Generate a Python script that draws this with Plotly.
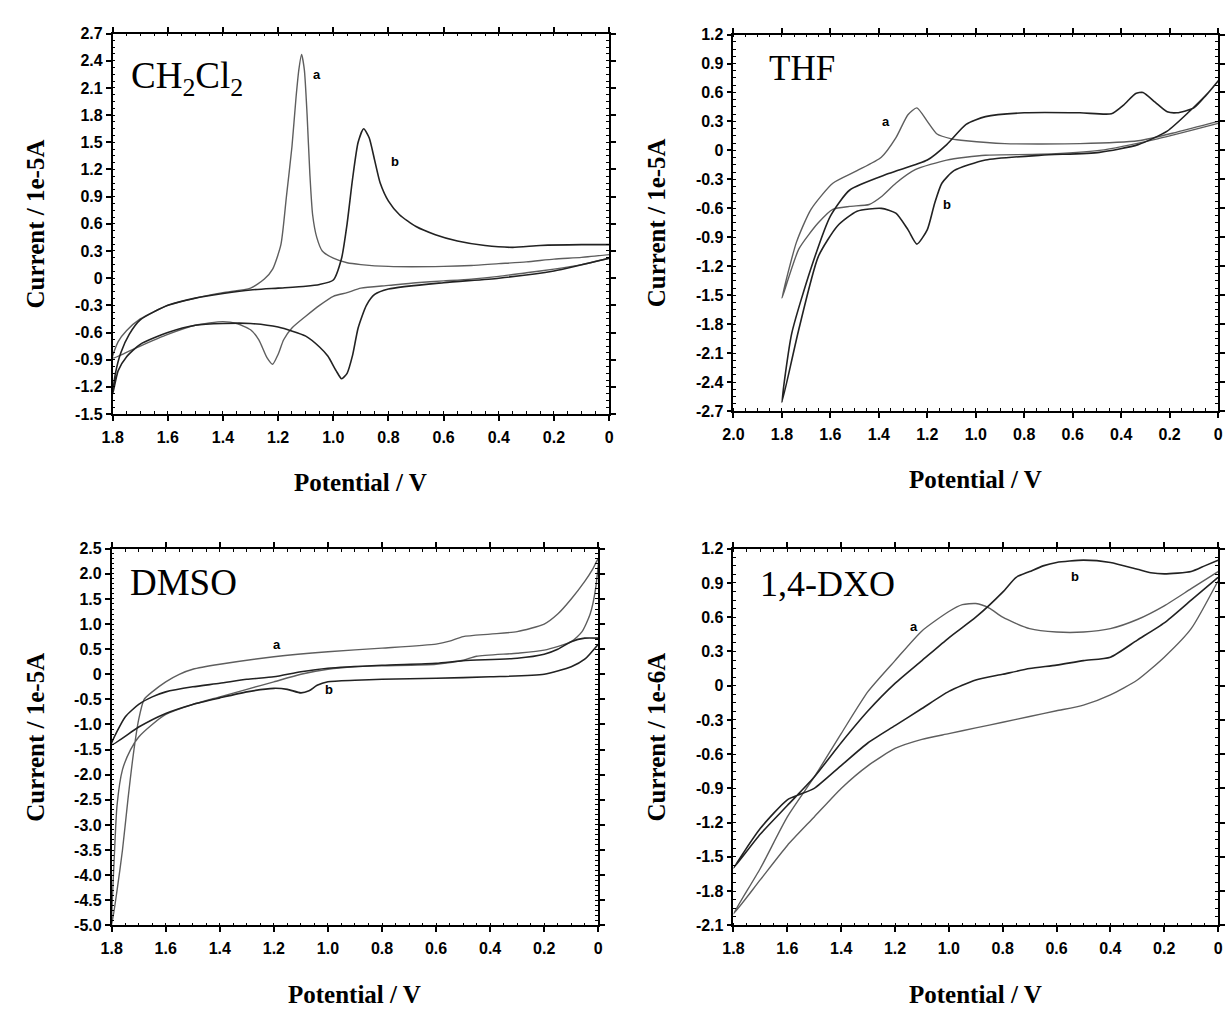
import plotly.graph_objects as go

# ---------------- CH2Cl2 (current in 1e-5 A) ----------------
ch2cl2_a_v = [0, 0.1, 0.2, 0.3, 0.4, 0.5, 0.6, 0.7, 0.8, 0.9, 0.95, 1.0, 1.05, 1.1, 1.15, 1.18, 1.2, 1.22,
              1.24, 1.27, 1.3, 1.35, 1.4, 1.5, 1.6, 1.7, 1.75, 1.8,
              1.78, 1.75, 1.7, 1.6, 1.5, 1.4, 1.3, 1.25, 1.22, 1.19, 1.17, 1.15, 1.135, 1.125, 1.115, 1.105,
              1.095, 1.085, 1.075, 1.06, 1.04, 1.0, 0.95, 0.9, 0.8, 0.6, 0.5, 0.4, 0.3, 0.2, 0.1, 0]
ch2cl2_a_i = [0.22, 0.15, 0.1, 0.06, 0.02, -0.01, -0.03, -0.05, -0.08, -0.11, -0.16, -0.2, -0.3, -0.42, -0.55, -0.68, -0.84, -0.95,
              -0.88, -0.68, -0.57, -0.5, -0.48, -0.52, -0.62, -0.75, -0.82, -0.88,
              -0.7, -0.58, -0.45, -0.3, -0.22, -0.16, -0.11, -0.01, 0.1, 0.37, 0.9, 1.45, 2.0, 2.3, 2.47, 2.3,
              1.8, 1.15, 0.7, 0.45, 0.3, 0.22, 0.17, 0.15, 0.13, 0.13, 0.14, 0.16, 0.18, 0.21, 0.23, 0.26]
ch2cl2_b_v = [0, 0.2, 0.4, 0.6, 0.8, 0.85, 0.88, 0.91, 0.93, 0.95, 0.97, 0.99, 1.02, 1.05, 1.1, 1.2, 1.3, 1.4,
              1.5, 1.6, 1.7, 1.75, 1.78, 1.8,
              1.79, 1.77, 1.74, 1.7, 1.6, 1.5, 1.4, 1.3, 1.2, 1.1, 1.05, 1.0, 0.97, 0.95, 0.93, 0.91, 0.89,
              0.87, 0.85, 0.83, 0.8, 0.76, 0.7, 0.63, 0.55, 0.45, 0.35, 0.25, 0.1, 0]
ch2cl2_b_i = [0.22, 0.08, 0.0, -0.05, -0.12, -0.18, -0.3, -0.55, -0.85, -1.05, -1.11, -1.02, -0.86, -0.76, -0.64, -0.54, -0.5, -0.5,
              -0.52, -0.6, -0.73, -0.87, -1.02, -1.28,
              -1.05, -0.82, -0.62, -0.46, -0.3, -0.22, -0.17, -0.13, -0.11, -0.09, -0.07, -0.02, 0.22, 0.6, 1.1, 1.5, 1.65,
              1.55, 1.3, 1.05, 0.85, 0.7, 0.57, 0.48, 0.41, 0.36, 0.34, 0.36, 0.37, 0.37]

# ---------------- THF (current in 1e-5 A) ----------------
thf_a_v = [0, 0.25, 0.49, 0.73, 0.96, 1.12, 1.25, 1.33, 1.39, 1.44, 1.52, 1.59, 1.65, 1.73, 1.8,
           1.74, 1.68, 1.59, 1.49, 1.39, 1.33, 1.28, 1.243, 1.2, 1.16, 1.1, 1.04, 0.88, 0.57, 0.33, 0.17, 0]
thf_a_i = [0.28, 0.12, 0.0, -0.04, -0.05, -0.1, -0.2, -0.34, -0.48, -0.56, -0.58, -0.61, -0.75, -1.02, -1.53,
           -0.95, -0.61, -0.34, -0.21, -0.07, 0.13, 0.37, 0.44, 0.3, 0.17, 0.12, 0.1, 0.07, 0.07, 0.1, 0.19, 0.3]
thf_b_v = [0, 0.04, 0.12, 0.21, 0.33, 0.49, 0.73, 0.96, 1.09, 1.14, 1.17, 1.2, 1.243, 1.28, 1.33, 1.39, 1.49,
           1.57, 1.65, 1.73, 1.8,
           1.76, 1.68, 1.6, 1.52, 1.36, 1.2, 1.12, 1.04, 0.96, 0.8, 0.57, 0.44, 0.39, 0.34, 0.31, 0.26, 0.21,
           0.17, 0.1, 0.05, 0]
thf_b_i = [0.72, 0.6, 0.4, 0.2, 0.06, -0.02, -0.05, -0.1, -0.21, -0.34, -0.55, -0.82, -0.97, -0.82, -0.65, -0.6, -0.63,
           -0.78, -1.1, -1.85, -2.61,
           -1.9, -1.22, -0.68, -0.41, -0.24, -0.1, 0.06, 0.27, 0.35, 0.39, 0.39, 0.38, 0.47, 0.59, 0.6, 0.5, 0.4,
           0.39, 0.44, 0.57, 0.72]

# ---------------- DMSO (current in 1e-5 A) ----------------
dmso_a_v = [0, 0.01, 0.03, 0.06, 0.1, 0.2, 0.3, 0.45, 0.5, 0.6, 0.8, 0.9, 1.0, 1.1, 1.2, 1.3, 1.4, 1.5, 1.6,
            1.65, 1.7, 1.73, 1.76, 1.78, 1.79, 1.8,
            1.78, 1.76, 1.74, 1.72, 1.7, 1.68, 1.65, 1.6, 1.55, 1.5, 1.4, 1.2, 1.0, 0.8, 0.6, 0.55, 0.5, 0.4,
            0.3, 0.2, 0.15, 0.1, 0.05, 0.02, 0]
dmso_a_i = [2.3, 1.7, 1.2, 0.85, 0.65, 0.48, 0.42, 0.36, 0.28, 0.2, 0.17, 0.15, 0.1, 0.0, -0.15, -0.3, -0.45, -0.6, -0.8,
            -1.0, -1.25, -1.5, -1.9, -2.6, -3.6, -5.0,
            -4.3, -3.5, -2.5, -1.6, -0.9, -0.5, -0.35, -0.15, 0.0, 0.1, 0.2, 0.35, 0.45, 0.52, 0.6, 0.66, 0.75, 0.8,
            0.85, 1.0, 1.2, 1.5, 1.85, 2.1, 2.3]
dmso_b_v = [0, 0.05, 0.1, 0.2, 0.4, 0.6, 0.8, 0.9, 1.0, 1.04, 1.07, 1.1, 1.15, 1.2, 1.3, 1.4, 1.5, 1.6, 1.7, 1.8,
            1.75, 1.7, 1.65, 1.6, 1.5, 1.4, 1.3, 1.2, 1.1, 1.0, 0.8, 0.6, 0.5, 0.3, 0.2, 0.15, 0.1, 0.05, 0]
dmso_b_i = [0.6, 0.3, 0.15, 0.0, -0.05, -0.08, -0.1, -0.12, -0.15, -0.22, -0.33, -0.37, -0.3, -0.28, -0.35, -0.47, -0.6, -0.78, -1.05, -1.4,
            -0.85, -0.6, -0.45, -0.35, -0.25, -0.18, -0.1, -0.05, 0.05, 0.12, 0.18, 0.22, 0.27, 0.32, 0.4, 0.5, 0.65, 0.72, 0.72]

# ---------------- 1,4-DXO (current in 1e-6 A) ----------------
dxo_a_v = [0, 0.1, 0.2, 0.3, 0.4, 0.5, 0.6, 0.7, 0.8, 0.9, 1.0, 1.1, 1.2, 1.3, 1.4, 1.5, 1.6, 1.7, 1.8,
           1.7, 1.6, 1.5, 1.4, 1.3, 1.2, 1.1, 1.0, 0.95, 0.9, 0.85, 0.8, 0.7, 0.6, 0.5, 0.4, 0.3, 0.2, 0.1, 0]
dxo_a_i = [0.92, 0.5, 0.25, 0.05, -0.08, -0.17, -0.22, -0.27, -0.32, -0.37, -0.42, -0.47, -0.55, -0.7, -0.9, -1.15, -1.4, -1.7, -2.0,
           -1.6, -1.15, -0.8, -0.42, -0.05, 0.22, 0.48, 0.65, 0.71, 0.72, 0.68, 0.6, 0.5, 0.47, 0.47, 0.5, 0.58, 0.7, 0.85, 1.0]
dxo_b_v = [0, 0.1, 0.2, 0.3, 0.4, 0.5, 0.6, 0.7, 0.8, 0.9, 1.0, 1.1, 1.2, 1.3, 1.4, 1.5, 1.55, 1.6, 1.7, 1.8,
           1.7, 1.6, 1.5, 1.4, 1.3, 1.2, 1.1, 1.0, 0.9, 0.8, 0.75, 0.7, 0.65, 0.6, 0.5, 0.4, 0.3, 0.25, 0.2, 0.1, 0.05, 0]
dxo_b_i = [0.95, 0.75, 0.55, 0.4, 0.25, 0.22, 0.18, 0.15, 0.1, 0.05, -0.05, -0.2, -0.35, -0.5, -0.7, -0.9, -0.95, -1.0, -1.25, -1.6,
           -1.3, -1.05, -0.8, -0.5, -0.22, 0.02, 0.22, 0.42, 0.6, 0.82, 0.95, 1.0, 1.05, 1.08, 1.1, 1.08, 1.02, 0.99, 0.98, 1.0, 1.05, 1.1]

# ---------------- axis ticks ----------------
x_ticks_18 = [1.8, 1.6, 1.4, 1.2, 1.0, 0.8, 0.6, 0.4, 0.2, 0]
x_text_18 = ["1.8", "1.6", "1.4", "1.2", "1.0", "0.8", "0.6", "0.4", "0.2", "0"]
x_ticks_20 = [2.0] + x_ticks_18
x_text_20 = ["2.0"] + x_text_18

y_ticks_ch2cl2 = [2.7, 2.4, 2.1, 1.8, 1.5, 1.2, 0.9, 0.6, 0.3, 0, -0.3, -0.6, -0.9, -1.2, -1.5]
y_text_ch2cl2 = ["2.7", "2.4", "2.1", "1.8", "1.5", "1.2", "0.9", "0.6", "0.3", "0", "-0.3", "-0.6", "-0.9", "-1.2", "-1.5"]
y_ticks_thf = [1.2, 0.9, 0.6, 0.3, 0, -0.3, -0.6, -0.9, -1.2, -1.5, -1.8, -2.1, -2.4, -2.7]
y_text_thf = ["1.2", "0.9", "0.6", "0.3", "0", "-0.3", "-0.6", "-0.9", "-1.2", "-1.5", "-1.8", "-2.1", "-2.4", "-2.7"]
y_ticks_dmso = [2.5, 2.0, 1.5, 1.0, 0.5, 0, -0.5, -1.0, -1.5, -2.0, -2.5, -3.0, -3.5, -4.0, -4.5, -5.0]
y_text_dmso = ["2.5", "2.0", "1.5", "1.0", "0.5", "0", "-0.5", "-1.0", "-1.5", "-2.0", "-2.5", "-3.0", "-3.5", "-4.0", "-4.5", "-5.0"]
y_ticks_dxo = [1.2, 0.9, 0.6, 0.3, 0, -0.3, -0.6, -0.9, -1.2, -1.5, -1.8, -2.1]
y_text_dxo = ["1.2", "0.9", "0.6", "0.3", "0", "-0.3", "-0.6", "-0.9", "-1.2", "-1.5", "-1.8", "-2.1"]

W, H = 1230, 1012
COLOR_A = "#5e5e5e"
COLOR_B = "#222222"
SERIF = "Liberation Serif, Times New Roman, serif"
SANS = "Liberation Sans, Arial, sans-serif"


def px_x(p):
    return p / W


def px_y(p):
    return 1 - p / H


panels = [
    dict(sfx="", xd=(103, 606), yd=(26, 413), xr=(1.8, 0), xt=x_ticks_18, xtt=x_text_18,
         yr=(-1.5, 2.7), yt=y_ticks_ch2cl2, ytt=y_text_ch2cl2, ymin=0.075,
         a=(ch2cl2_a_v, ch2cl2_a_i), b=(ch2cl2_b_v, ch2cl2_b_i), unit="Current / 1e-5A"),
    dict(sfx="2", xd=(732, 1223), yd=(27, 410), xr=(2.0, 0), xt=x_ticks_20, xtt=x_text_20,
         yr=(-2.7, 1.2), yt=y_ticks_thf, ytt=y_text_thf, ymin=0.075,
         a=(thf_a_v, thf_a_i), b=(thf_b_v, thf_b_i), unit="Current / 1e-5A"),
    dict(sfx="3", xd=(102, 595), yd=(550, 933), xr=(1.8, 0), xt=x_ticks_18, xtt=x_text_18,
         yr=(-5.0, 2.5), yt=y_ticks_dmso, ytt=y_text_dmso, ymin=0.1,
         a=(dmso_a_v, dmso_a_i), b=(dmso_b_v, dmso_b_i), unit="Current / 1e-5A"),
    dict(sfx="4", xd=(732, 1223), yd=(550, 933), xr=(1.8, 0), xt=x_ticks_18, xtt=x_text_18,
         yr=(-2.1, 1.2), yt=y_ticks_dxo, ytt=y_text_dxo, ymin=0.075,
         a=(dxo_a_v, dxo_a_i), b=(dxo_b_v, dxo_b_i), unit="Current / 1e-6A"),
]

fig = go.Figure()
layout = dict(
    width=W, height=H, margin=dict(l=0, r=0, t=0, b=0),
    paper_bgcolor="white", plot_bgcolor="white", showlegend=False,
)
annotations = []

for p in panels:
    s = p["sfx"]
    xa, ya = "x" + s, "y" + s
    for key, col, wid in (("a", COLOR_A, 1.4), ("b", COLOR_B, 1.6)):
        v, i = p[key]
        fig.add_trace(go.Scatter(
            x=v, y=i, mode="lines", xaxis=xa, yaxis=ya, hoverinfo="skip",
            line=dict(color=col, width=wid, shape="spline", smoothing=0.6),
        ))
    axis_common = dict(
        showline=True, linecolor="black", linewidth=1.6, mirror="allticks",
        showgrid=False, zeroline=False,
        ticks="outside", ticklen=5, tickwidth=1.5, tickcolor="black",
        tickfont=dict(family=SANS, size=16, color="black", weight="bold"),
    )
    layout["xaxis" + s] = dict(
        axis_common, domain=[px_x(p["xd"][0]), px_x(p["xd"][1])], range=list(p["xr"]),
        anchor=ya, tickmode="array", tickvals=p["xt"], ticktext=p["xtt"],
        ticklabelstandoff=3,
        minor=dict(dtick=0.05, tick0=0, ticks="inside", ticklen=3, tickwidth=1.3, tickcolor="black"),
    )
    layout["yaxis" + s] = dict(
        axis_common, domain=[px_y(p["yd"][1]), px_y(p["yd"][0])], range=list(p["yr"]),
        anchor=xa, tickmode="array", tickvals=p["yt"], ticktext=p["ytt"],
        minor=dict(dtick=p["ymin"], tick0=0, ticks="inside", ticklen=3, tickwidth=1.3, tickcolor="black"),
    )
    # axis titles
    xc = (p["xd"][0] + p["xd"][1]) / 2
    yc = (p["yd"][0] + p["yd"][1]) / 2
    annotations.append(dict(
        xref="paper", yref="paper", x=px_x(xc), y=px_y(p["yd"][1] + 70),
        text="<b>Potential / V</b>", showarrow=False, xanchor="center", yanchor="middle",
        font=dict(family=SERIF, size=25, color="black"),
    ))
    annotations.append(dict(
        xref="paper", yref="paper", x=px_x(p["xd"][0] - 78), y=px_y(yc),
        text="<b>" + p["unit"] + "</b>", showarrow=False, textangle=-90,
        xanchor="center", yanchor="middle",
        font=dict(family=SERIF, size=25, color="black"),
    ))

# solvent labels
solvent_labels = [
    ("", 1.74, 2.2, "CH<sub>2</sub>Cl<sub>2</sub>", 37),
    ("2", 1.86, 0.85, "THF", 35),
    ("3", 1.74, 1.83, "DMSO", 37),
    ("4", 1.71, 0.89, "1,4-DXO", 36),
]
for s, x, y, t, size in solvent_labels:
    annotations.append(dict(
        xref="x" + s, yref="y" + s, x=x, y=y, text=t, showarrow=False,
        xanchor="left", yanchor="middle", font=dict(family=SERIF, size=size, color="black"),
    ))

# curve labels
curve_labels = [
    ("", 1.06, 2.25, "a"), ("", 0.776, 1.29, "b"),
    ("2", 1.37, 0.30, "a"), ("2", 1.12, -0.56, "b"),
    ("3", 1.19, 0.60, "a"), ("3", 0.995, -0.30, "b"),
    ("4", 1.13, 0.52, "a"), ("4", 0.53, 0.96, "b"),
]
for s, x, y, t in curve_labels:
    annotations.append(dict(
        xref="x" + s, yref="y" + s, x=x, y=y, text="<b>" + t + "</b>", showarrow=False,
        xanchor="center", yanchor="middle", font=dict(family=SANS, size=13, color="black"),
    ))

layout["annotations"] = annotations
fig.update_layout(**layout)
fig.write_html("out.html")
